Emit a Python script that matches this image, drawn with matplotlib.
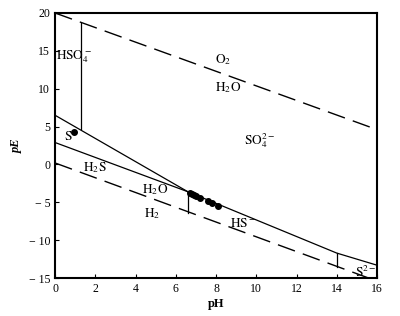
import matplotlib
matplotlib.use("Agg")
import matplotlib.pyplot as plt

plt.rcParams['font.family'] = ['Liberation Serif', 'DejaVu Serif']
plt.rcParams['mathtext.fontset'] = 'stix'

# water stability limits (dashed)
o2_ph = [0, 16]
o2_pe = [20.0, 4.6]
h2_ph = [0, 16]
h2_pe = [0.2, -15.4]

# sulfur species boundaries (solid)
hso4_ph = [1.3, 1.3]
hso4_pe = [18.7, 4.7]
s_so4_ph = [0, 6.6]
s_so4_pe = [6.5, -3.6]
s_h2s_ph = [0, 6.6]
s_h2s_pe = [2.9, -3.6]
hs_so4_ph = [6.6, 14.0, 16.0]
hs_so4_pe = [-3.6, -11.7, -13.3]
h2s_hs_ph = [6.6, 6.6]
h2s_hs_pe = [-3.6, -6.4]
hs_s2_ph = [14.0, 14.0]
hs_s2_pe = [-11.7, -13.6]

# measured samples
pts_ph = [0.95, 6.7, 6.8, 6.9, 7.0, 7.2, 7.6, 7.8, 8.1]
pts_pe = [4.3, -3.8, -3.9, -4.0, -4.1, -4.4, -4.8, -5.1, -5.5]

labels = [
    (0.05, 14.2, r'$\mathrm{HSO_4^-}$'),
    (0.45, 3.7, r'$\mathrm{S}$'),
    (7.95, 13.8, r'$\mathrm{O_2}$'),
    (7.95, 10.1, r'$\mathrm{H_2O}$'),
    (9.4, 3.2, r'$\mathrm{SO_4^{2-}}$'),
    (1.4, -0.4, r'$\mathrm{H_2S}$'),
    (4.3, -3.3, r'$\mathrm{H_2O}$'),
    (4.4, -6.5, r'$\mathrm{H_2}$'),
    (8.7, -7.8, r'$\mathrm{HS^-}$'),
    (14.9, -14.2, r'$\mathrm{S^{2-}}$'),
]

fig = plt.figure(figsize=(4.0, 3.16), dpi=100)
ax = fig.add_axes([0.1375, 0.12, 0.805, 0.839])

ax.plot(o2_ph, o2_pe, color='black', lw=1.0, dashes=(13, 6))
ax.plot(h2_ph, h2_pe, color='black', lw=1.0, dashes=(13, 6))
for xs, ys in [(hso4_ph, hso4_pe), (s_so4_ph, s_so4_pe), (s_h2s_ph, s_h2s_pe),
               (hs_so4_ph, hs_so4_pe), (h2s_hs_ph, h2s_hs_pe), (hs_s2_ph, hs_s2_pe)]:
    ax.plot(xs, ys, color='black', lw=0.9)

ax.plot(pts_ph, pts_pe, 'o', color='black', markersize=4)

for x, y, t in labels:
    ax.text(x, y, t, fontsize=9.5, va='center', ha='left')

ax.set_xlim(0, 16)
ax.set_ylim(-15, 20)
ax.set_xticks(range(0, 17, 2))
ax.set_yticks(range(-15, 21, 5))
ax.set_yticklabels(['\u2212 15', '\u2212 10', '\u2212 5', '0', '5', '10', '15', '20'])
ax.tick_params(direction='in', length=3, labelsize=8.5, width=0.8)
for s in ax.spines.values():
    s.set_linewidth(1.5)

ax.set_xlabel('pH', fontsize=9, fontweight='bold', labelpad=2)
ax.set_ylabel('pE', fontsize=9, fontstyle='italic', fontweight='bold')

fig.savefig('out.png', dpi=100)
